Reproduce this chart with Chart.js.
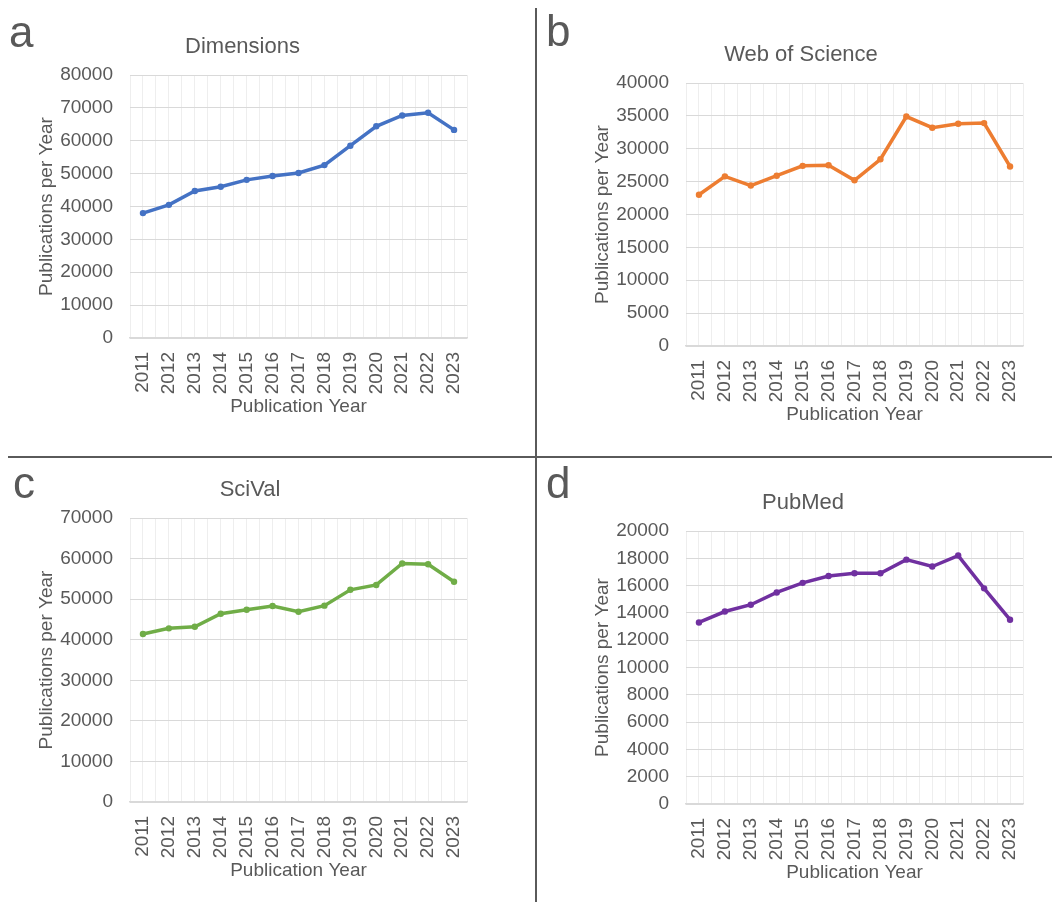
<!DOCTYPE html>
<html>
<head>
<meta charset="utf-8">
<script src="https://cdn.jsdelivr.net/npm/chart.js@4.4.1/dist/chart.umd.min.js"></script>
<style>
  body { margin: 0; background: #fff; }
  #page { position: relative; width: 1052px; height: 902px; overflow: hidden; font-family: "Liberation Sans", Arial, sans-serif; }
  canvas { position: absolute; }
  .letter { position: absolute; font-size: 44px; line-height: 44px; color: #595959; }
  .vline { position: absolute; left: 535px; top: 8px; width: 2px; height: 894px; background: #5a5a5a; }
  .hline { position: absolute; left: 8px; top: 456px; width: 1044px; height: 2px; background: #5a5a5a; }
</style>
</head>
<body>
<div id="page">
  <canvas id="chartA" width="536" height="456" style="left:0;top:0"></canvas>
  <canvas id="chartB" width="515" height="456" style="left:537px;top:0"></canvas>
  <canvas id="chartC" width="536" height="444" style="left:0;top:458px"></canvas>
  <canvas id="chartD" width="515" height="444" style="left:537px;top:458px"></canvas>
  <div class="letter" style="left:9px;top:10px">a</div>
  <div class="letter" style="left:546px;top:9px">b</div>
  <div class="letter" style="left:13px;top:461px">c</div>
  <div class="letter" style="left:546px;top:461px">d</div>
  <div class="vline"></div>
  <div class="hline"></div>
</div>
<script>
const years = ["2011", "2012", "2013", "2014", "2015", "2016", "2017", "2018", "2019", "2020", "2021", "2022", "2023"];

const dimensions = [38000, 40500, 44700, 46000, 48100, 49300, 50200, 52600, 58500, 64400, 67700, 68500, 63300];
const webOfScience = [23000, 25800, 24400, 25900, 27400, 27500, 25200, 28400, 34900, 33200, 33800, 33900, 27300];
const scival = [41400, 42800, 43200, 46400, 47400, 48300, 46900, 48400, 52300, 53500, 58800, 58600, 54300];
const pubmed = [13300, 14100, 14600, 15500, 16200, 16700, 16900, 16900, 17900, 17400, 18200, 15800, 13500];

// y axis ranges: [max, step]
const dimensionsAxis = [80000, 10000];
const webOfScienceAxis = [40000, 5000];
const scivalAxis = [70000, 10000];
const pubmedAxis = [20000, 2000];

const textColor = "#595959";
const fontFamily = "'Liberation Sans', Arial, sans-serif";

// box: plot area inside the canvas + left padding (centres the title) + title offset
function makeChart(id, title, values, axis, color, box) {
  const canvas = document.getElementById(id);
  const W = canvas.width, H = canvas.height;
  const titleLine = 22 * 1.2;
  const xHeight = 95;
  new Chart(canvas, {
    type: "line",
    data: {
      labels: years,
      datasets: [{
        data: values,
        borderColor: color,
        backgroundColor: color,
        borderWidth: 3.5,
        pointRadius: 3.2,
        pointBorderWidth: 0,
        pointBackgroundColor: color,
        tension: 0
      }]
    },
    options: {
      responsive: false,
      animation: false,
      layout: {
        padding: { left: box.padLeft, right: W - box.right, top: 0, bottom: H - box.bottom - xHeight }
      },
      plugins: {
        legend: { display: false },
        tooltip: { enabled: false },
        title: {
          display: true,
          text: title,
          color: textColor,
          font: { family: fontFamily, size: 22, weight: "normal" },
          padding: { top: box.titleY - titleLine / 2, bottom: box.top - box.titleY - titleLine / 2 }
        }
      },
      scales: {
        x: {
          offset: true,
          grid: { color: "#eeeeee", lineWidth: 1, drawTicks: false },
          border: { color: "#d9d9d9", width: 1.5 },
          ticks: {
            color: textColor,
            font: { family: fontFamily, size: 19 },
            minRotation: 90,
            maxRotation: 90,
            autoSkip: false,
            padding: 14
          },
          title: {
            display: true,
            text: "Publication Year",
            color: textColor,
            font: { family: fontFamily, size: 19 },
            padding: { top: 0, bottom: xHeight - 69 - 11.4 }
          },
          afterFit: s => { s.height = xHeight; }
        },
        x2: {
          type: "category",
          labels: years,
          position: "top",
          offset: true,
          grid: { offset: true, color: "#eeeeee", lineWidth: 1, drawTicks: false },
          border: { display: false },
          ticks: { display: false },
          afterFit: s => { s.height = 0; }
        },
        y: {
          min: 0,
          max: axis[0],
          grid: { color: "#d9d9d9", lineWidth: 1, drawTicks: false },
          border: { display: false },
          ticks: {
            stepSize: axis[1],
            color: textColor,
            font: { family: fontFamily, size: 19 },
            padding: 17,
            callback: v => String(v)
          },
          title: {
            display: true,
            text: "Publications per Year",
            color: textColor,
            font: { family: fontFamily, size: 19 },
            padding: { top: box.left - 83 - box.padLeft - 11.4, bottom: 0 }
          },
          afterFit: s => { s.width = box.left - box.padLeft; }
        }
      }
    }
  });
}

makeChart("chartA", "Dimensions", dimensions, dimensionsAxis, "#4472C4",
  { left: 130, right: 467, top: 75, bottom: 338, padLeft: 18, titleY: 47 });
makeChart("chartB", "Web of Science", webOfScience, webOfScienceAxis, "#ED7D31",
  { left: 149, right: 486, top: 83, bottom: 346, padLeft: 42, titleY: 55 });
makeChart("chartC", "SciVal", scival, scivalAxis, "#70AD47",
  { left: 130, right: 467, top: 60, bottom: 344, padLeft: 33, titleY: 32 });
makeChart("chartD", "PubMed", pubmed, pubmedAxis, "#7030A0",
  { left: 149, right: 486, top: 73, bottom: 346, padLeft: 46, titleY: 45 });
</script>
</body>
</html>
